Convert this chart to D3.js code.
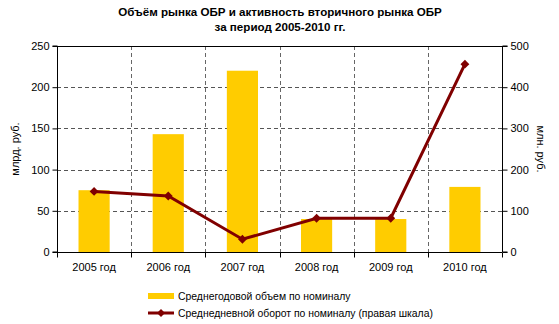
<!DOCTYPE html>
<html><head><meta charset="utf-8">
<script src="https://cdn.jsdelivr.net/npm/d3@7"></script>
<style>body{margin:0;background:#fff}svg{display:block}text{font-family:"Liberation Sans",Arial,sans-serif}</style>
</head><body><svg id="c" width="559" height="324"></svg>
<script>
const categories = ["2005 год","2006 год","2007 год","2008 год","2009 год","2010 год"];
const volume = [75, 143, 220, 40, 40, 79];
const turnover = [147, 136, 31, 82, 82, 456];
const leftTicks = [0,50,100,150,200,250];
const rightTicks = [0,100,200,300,400,500];
const titleLines = ["Объём рынка ОБР и активность вторичного рынка ОБР","за период 2005-2010 гг."];
const legendLabels = ["Среднегодовой объем по номиналу","Среднедневной оборот по номиналу (правая шкала)"];

const svg = d3.select("#c");
const L=57,R=502,T=46,B=252;
const x = d3.scaleBand().domain(categories).range([L,R]).paddingInner(0.58).paddingOuter(0.29);
const xc = d3.scaleBand().domain(categories).range([L,R]);
const yL = d3.scaleLinear().domain([0,250]).range([B,T]);
const yR = d3.scaleLinear().domain([0,500]).range([B,T]);

// gridlines
const g = svg.append("g");
g.selectAll("line.h").data(leftTicks.filter(d=>d>0&&d<250)).join("line")
  .attr("x1",L).attr("x2",R).attr("y1",d=>Math.round(yL(d))+0.5).attr("y2",d=>Math.round(yL(d))+0.5)
  .attr("stroke","#555").attr("stroke-dasharray","4,3");
g.selectAll("line.v").data(categories.slice(1)).join("line")
  .attr("x1",d=>Math.round(xc(d))+0.5).attr("x2",d=>Math.round(xc(d))+0.5).attr("y1",T).attr("y2",B)
  .attr("stroke","#666").attr("stroke-dasharray","4,3");

// bars
svg.append("g").selectAll("rect").data(volume).join("rect")
  .attr("x",(d,i)=>x(categories[i])).attr("width",x.bandwidth())
  .attr("y",d=>yL(d)).attr("height",d=>B-yL(d)).attr("fill","#FFCC00");

// top border
svg.append("line").attr("x1",L).attr("x2",R).attr("y1",T+0.5).attr("y2",T+0.5).attr("stroke","#000");

// axes
const axL = d3.axisLeft(yL).tickValues(leftTicks).tickSize(5).tickPadding(3);
const axR = d3.axisRight(yR).tickValues(rightTicks).tickSize(5).tickPadding(3);
const axB = d3.axisBottom(xc).tickSize(0).tickPadding(11);
function style(sel){sel.selectAll("text").attr("font-size","11px").attr("fill","#000");sel.selectAll("path,line").attr("stroke","#000");}
svg.append("g").attr("transform",`translate(${L+0.5},0)`).call(axL).call(style).call(s=>s.select(".domain").attr("d",`M-5,${T}H0V${B}H-5`));
svg.append("g").attr("transform",`translate(${R+0.5},0)`).call(axR).call(style).call(s=>s.select(".domain").attr("d",`M5,${T}H0V${B}H5`));
const gb = svg.append("g").attr("transform",`translate(0,${B+0.5})`).call(axB).call(style);
gb.select(".domain").attr("d",`M${L},0H${R}`);
gb.selectAll(".bt").data(d3.range(categories.length+1)).join("line").attr("class","bt")
  .attr("x1",i=>Math.round(L+i*xc.step())+0.5).attr("x2",i=>Math.round(L+i*xc.step())+0.5)
  .attr("y1",0).attr("y2",5).attr("stroke","#000");

// line
const cx = i=>xc(categories[i])+xc.bandwidth()/2;
svg.append("path").datum(turnover)
  .attr("d",d3.line().x((d,i)=>cx(i)).y(d=>yR(d)))
  .attr("fill","none").attr("stroke","#800000").attr("stroke-width",3);
svg.append("g").selectAll("path").data(turnover).join("path")
  .attr("d",d3.symbol(d3.symbolDiamond2,50))
  .attr("transform",(d,i)=>`translate(${cx(i)},${yR(d)})`).attr("fill","#800000");

// titles
svg.append("g").selectAll("text").data(titleLines).join("text")
  .attr("x",280).attr("y",(d,i)=>16+i*15).attr("text-anchor","middle")
  .attr("font-size","11.6px").attr("font-weight","bold").text(d=>d);
svg.append("text").attr("transform","translate(19,149) rotate(-90)").attr("text-anchor","middle")
  .attr("font-size","11px").text("млрд. руб.");
svg.append("text").attr("transform","translate(537,149) rotate(90)").attr("text-anchor","middle")
  .attr("font-size","11px").text("млн. руб.");

// legend
svg.append("rect").attr("x",148).attr("y",293).attr("width",26).attr("height",6).attr("fill","#FFCC00");
svg.append("line").attr("x1",148).attr("x2",174).attr("y1",313).attr("y2",313).attr("stroke","#800000").attr("stroke-width",3);
svg.append("path").attr("d",d3.symbol(d3.symbolDiamond2,40)).attr("transform","translate(161,313)").attr("fill","#800000");
svg.append("g").selectAll("text").data(legendLabels).join("text")
  .attr("x",178).attr("y",(d,i)=>300+i*17).attr("font-size","10.4px").text(d=>d);
</script></body></html>
